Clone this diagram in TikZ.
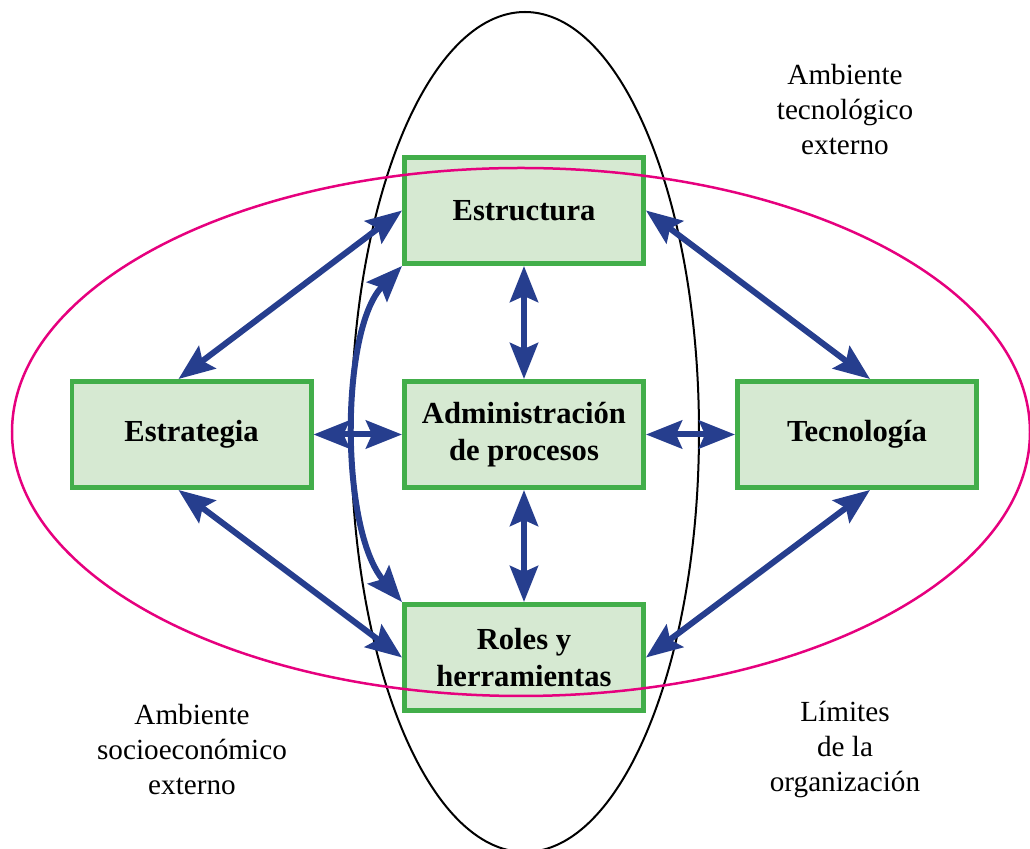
\documentclass[tikz,border=0pt]{standalone}
\usepackage{fontspec}
\setmainfont{Liberation Serif}
\usetikzlibrary{arrows.meta}
\definecolor{boxgreen}{RGB}{66,174,74}
\definecolor{boxfill}{RGB}{214,233,210}
\definecolor{linkblue}{RGB}{38,62,142}
\definecolor{ringpink}{RGB}{230,0,126}
\tikzstyle{orgdiagram}=[%
	partBox/.style={%
		draw=boxgreen,
		fill=boxfill,
		line width=2.3pt,
		minimum width=119.7pt,
		minimum height=53.2pt,
		align=center,
		font=\fontsize{15.3}{18.5}\selectfont\bfseries
	},%
	envText/.style={%
		align=center,
		font=\fontsize{14.6}{17.5}\selectfont
	},%
	link/.style={%
		draw=linkblue,
		line width=3pt,
		{Stealth[length=18pt,width=14pt,inset=3pt]}-{Stealth[length=18pt,width=14pt,inset=3pt]}
	}
]
\begin{document}
\begin{tikzpicture}[
	x=0.5pt, y=-0.5pt,
	orgdiagram
]
	\useasboundingbox (0,0) rectangle (1030,849);

	\node[partBox] (estructura) at (524,210.5) {Estructura};
	\node[partBox] (estrategia) at (191.5,434.5) {Estrategia};
	\node[partBox] (procesos) at (524,434.5) {Administración\\de procesos};
	\node[partBox] (tecnologia) at (857,434.5) {Tecnología};
	\node[partBox] (roles) at (524,657.5) {Roles y\\herramientas};

	% limits of the organisation and environment
	\draw[black, line width=1pt] (525,432) ellipse [x radius=87pt, y radius=210pt];
	\draw[ringpink, line width=1.25pt] (521,432) ellipse [x radius=254.5pt, y radius=132pt];

	\node[envText] (tecExt) at (845,110) {Ambiente\\tecnológico\\externo};
	\node[envText] (socioExt) at (192,750) {Ambiente\\socioeconómico\\externo};
	\node[envText] (limites) at (845,750) {Límites\\de la\\organización};

	\draw[link] (estrategia) -- (procesos);
	\draw[link] (procesos) -- (tecnologia);
	\draw[link] (estructura) -- (procesos);
	\draw[link] (procesos) -- (roles);

	\draw[link] ([xshift=-6.5pt]estrategia.north) -- (estructura.west);
	\draw[link] (estructura.east) -- ([xshift=6.5pt]tecnologia.north);
	\draw[link] ([xshift=-6.5pt]estrategia.south) -- (roles.west);
	\draw[link] ([xshift=6.5pt]tecnologia.south) -- (roles.east);

	\draw[link] (estructura.south west)
		.. controls (340,330) and (340,530) .. (roles.north west);
\end{tikzpicture}
\end{document}
